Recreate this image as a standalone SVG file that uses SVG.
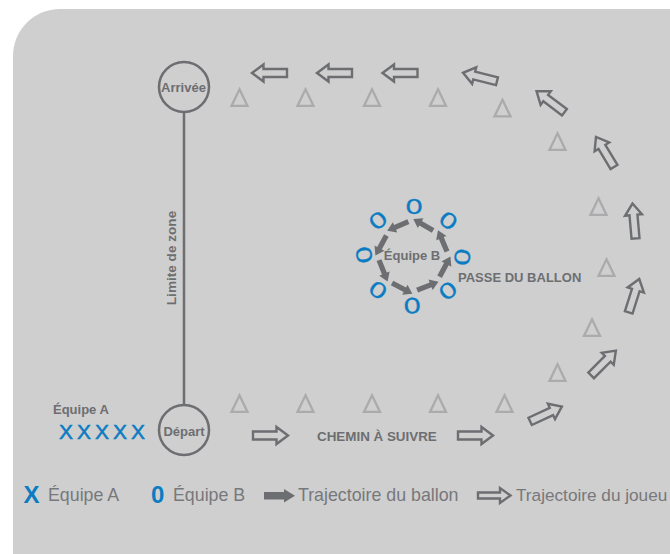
<svg xmlns="http://www.w3.org/2000/svg" xmlns:xlink="http://www.w3.org/1999/xlink" width="670" height="554" viewBox="0 0 670 554">
<style>
text{font-family:"Liberation Sans",Arial,sans-serif;fill:#6d6e71}
.b{font-weight:700;font-size:13px}
.l{font-size:17.8px;fill:#77787b}
.blue{fill:#0b7cc2}
.o{font-family:Lato,"Liberation Sans",sans-serif;font-size:21.5px;fill:#0b7cc2;text-anchor:middle;stroke:#0b7cc2;stroke-width:.3}
.n{fill:none;stroke:#6d6e71;stroke-width:2.5}
.h{fill:none;stroke:#6d6e71;stroke-width:2.4}
.t{fill:none;stroke:#ababad;stroke-width:2.3}
.s{fill:#6d6e71}
</style>
<defs>
<path id="hollow" class="h" d="M-17.5,-4H6V-8.5L17.5,0L6,8.5V4H-17.5Z"/>
<path id="ball" class="s" d="M-11.5,-2.6H3V-5.6L11.5,0L3,5.6V2.6H-11.5Z"/>
<path id="tri" class="t" d="M0,-8.2L8,8.4H-8Z"/>
</defs>
<rect width="670" height="554" fill="#fff"/>
<path d="M60,9H670V554H13V56A47,47 0 0 1 60,9Z" fill="#cfcfcf"/>
<g id="connectors">
<line class="n" x1="184" y1="113" x2="184" y2="404"/>
<use href="#hollow" transform="translate(270.5,435.5)"/>
<use href="#hollow" transform="translate(475.5,435.5)"/>
<use href="#hollow" transform="translate(546,414) rotate(-25)"/>
<use href="#hollow" transform="translate(603.5,363) rotate(-45)"/>
<use href="#hollow" transform="translate(634,295.7) rotate(-72.5)"/>
<use href="#hollow" transform="translate(634,221) rotate(-95)"/>
<use href="#hollow" transform="translate(605,152) rotate(-121)"/>
<use href="#hollow" transform="translate(550.5,101.7) rotate(-143)"/>
<use href="#hollow" transform="translate(480,77) rotate(-166)"/>
<use href="#hollow" transform="translate(400,73) rotate(180)"/>
<use href="#hollow" transform="translate(334.5,73) rotate(180)"/>
<use href="#hollow" transform="translate(269.5,73) rotate(180)"/>
<use href="#ball" transform="translate(397.8,226.2) rotate(156.8)"/>
<use href="#ball" transform="translate(380.9,245.5) rotate(118.5)"/>
<use href="#ball" transform="translate(383.3,270.8) rotate(67.9)"/>
<use href="#ball" transform="translate(402.2,288.3) rotate(27.8)"/>
<use href="#ball" transform="translate(427.8,285.9) rotate(-21.6)"/>
<use href="#ball" transform="translate(445,266.7) rotate(-61.9)"/>
<use href="#ball" transform="translate(442.5,240.9) rotate(-113.1)"/>
<use href="#ball" transform="translate(423.2,224.7) rotate(-149.7)"/>
</g>
<g id="markers">
<use href="#tri" transform="translate(239.5,403.5)"/>
<use href="#tri" transform="translate(305.5,403.5)"/>
<use href="#tri" transform="translate(372,403.5)"/>
<use href="#tri" transform="translate(438,403.5)"/>
<use href="#tri" transform="translate(504.5,403.5)"/>
<use href="#tri" transform="translate(557.5,372.5)"/>
<use href="#tri" transform="translate(592,327.5)"/>
<use href="#tri" transform="translate(606.5,267.5)"/>
<use href="#tri" transform="translate(598.5,206.5)"/>
<use href="#tri" transform="translate(557.5,141.5)"/>
<use href="#tri" transform="translate(502.5,108)"/>
<use href="#tri" transform="translate(438,97.5)"/>
<use href="#tri" transform="translate(372,97.5)"/>
<use href="#tri" transform="translate(305.5,97.5)"/>
<use href="#tri" transform="translate(239.5,97.5)"/>
</g>
<g id="arrivee">
<circle class="n" cx="184" cy="87" r="25"/>
<text class="b" x="183.5" y="91.5" text-anchor="middle">Arrivée</text>
</g>
<g id="depart">
<circle class="n" cx="184" cy="430" r="25"/>
<text class="b" x="184" y="436" text-anchor="middle">Départ</text>
</g>
<g id="limite">
<text class="b" style="font-size:13.6px" transform="translate(176,258) rotate(-90)" text-anchor="middle">Limite de zone</text>
</g>
<g id="equipe-a">
<text class="b" x="53" y="414">Équipe A</text>
<text class="blue" x="59" y="439" font-size="21" letter-spacing="4" stroke="#0b7cc2" stroke-width=".5">XXXXX</text>
</g>
<g id="equipe-b">
<text class="b" x="412" y="260" text-anchor="middle">Équipe B</text>
<text class="o" transform="translate(414,206.7) scale(1.3,1)" y="7.7">0</text>
<text class="o" transform="translate(448.3,220.7) rotate(38) scale(1.3,1)" y="7.7">0</text>
<text class="o" transform="translate(462.3,257) rotate(98) scale(1.3,1)" y="7.7">0</text>
<text class="o" transform="translate(448,290.7) rotate(-38) scale(1.3,1)" y="7.7">0</text>
<text class="o" transform="translate(412.3,305.7) rotate(-3) scale(1.3,1)" y="7.7">0</text>
<text class="o" transform="translate(378,290) rotate(35) scale(1.3,1)" y="7.7">0</text>
<text class="o" transform="translate(364,255) rotate(80) scale(1.3,1)" y="7.7">0</text>
<text class="o" transform="translate(378,220.3) rotate(-40) scale(1.3,1)" y="7.7">0</text>
</g>
<g id="labels">
<text class="b" x="458" y="281.7">PASSE DU BALLON</text>
<text class="b" style="font-size:13.4px" x="317" y="441">CHEMIN À SUIVRE</text>
</g>
<g id="legend">
<text class="blue" x="23.5" y="503" font-size="24" font-weight="700">X</text>
<text class="l" x="48" y="501">Équipe A</text>
<text class="blue" x="151" y="503" font-size="24" font-weight="700">0</text>
<text class="l" x="173" y="501">Équipe B</text>
<path class="s" d="M264,492H284V489L295,495.7L284,502.4V499.4H264Z"/>
<text class="l" x="298" y="501">Trajectoire du ballon</text>
<path class="h" d="M478,492.5H500V488L510.5,495.5L500,503V498.5H478Z"/>
<text class="l" style="font-size:17.2px" x="516" y="501">Trajectoire du joueu</text>
</g>
</svg>
